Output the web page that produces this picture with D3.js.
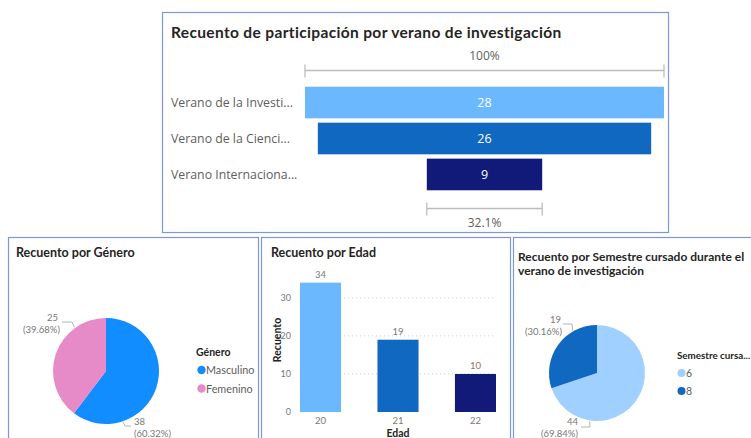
<!DOCTYPE html>
<html><head><meta charset="utf-8">
<script src="https://cdn.jsdelivr.net/npm/d3@7"></script>
<style>
html,body{margin:0;padding:0;background:#fff;}
svg{display:block;font-family:"Open Sans","Noto Sans",sans-serif;}
.t{font-family:Lato,"Open Sans",sans-serif;}
</style></head>
<body>
<svg id="c" width="751" height="438"></svg>
<script>
// ---- data ----
const funnelCats = ["Verano de la Investi...", "Verano de la Cienci...", "Verano Internaciona..."];
const funnelVals = [28, 26, 9];
const funnelColors = ["#6cb8ff", "#1068c1", "#111a78"];

const generoCats = ["Masculino", "Femenino"];
const generoVals = [38, 25];
const generoColors = ["#118dff", "#e78ac8"];

const edadCats = ["20", "21", "22"];
const edadVals = [34, 19, 10];
const edadColors = ["#6cb8ff", "#1068c1", "#111a78"];
const edadTicks = [0, 10, 20, 30];

const semCats = ["6", "8"];
const semVals = [44, 19];
const semColors = ["#a0d0ff", "#1068c1"];

const svg = d3.select("#c");
const border = "#7d97da";

function panel(x, y, w, h) {
  svg.append("rect").attr("x", x + 0.5).attr("y", y + 0.5).attr("width", w).attr("height", h)
    .attr("fill", "#fff").attr("stroke", border).attr("stroke-width", 1.2);
}

// ---------- Funnel panel ----------
panel(162, 12, 506, 220);
svg.append("text").attr("class", "t").attr("x", 171).attr("y", 38).attr("font-size", 15.5).attr("font-weight", 700)
  .attr("fill", "#252423").attr("letter-spacing", 0.35).text("Recuento de participación por verano de investigación");

const fx = d3.scaleLinear().domain([0, d3.max(funnelVals)]).range([0, 359]);
const fy = d3.scaleBand().domain(funnelCats).range([86, 191]).paddingInner(0.12).paddingOuter(0.02);
const fcx = 484.5;
const fg = svg.append("g");
fg.selectAll("rect").data(funnelVals).join("rect")
  .attr("x", d => fcx - fx(d) / 2).attr("y", (d, i) => fy(funnelCats[i]))
  .attr("width", d => fx(d)).attr("height", fy.bandwidth())
  .attr("fill", (d, i) => funnelColors[i]);
fg.selectAll("text.v").data(funnelVals).join("text").attr("class", "v")
  .attr("x", fcx).attr("y", (d, i) => fy(funnelCats[i]) + fy.bandwidth() / 2 + 4.5)
  .attr("text-anchor", "middle").attr("font-size", 12.5).attr("fill", "#fff").text(d => d);
fg.selectAll("text.c").data(funnelCats).join("text").attr("class", "c")
  .attr("x", 171).attr("y", d => fy(d) + fy.bandwidth() / 2 + 4.5)
  .attr("font-size", 12.3).attr("fill", "#605e5c").text(d => d);

function bracket(val, yLine, yText, label) {
  const x0 = fcx - fx(val) / 2, x1 = fcx + fx(val) / 2;
  const g = svg.append("g").attr("stroke", "#bdbdbd").attr("stroke-width", 1.3);
  g.append("line").attr("x1", x0).attr("x2", x1).attr("y1", yLine).attr("y2", yLine);
  g.append("line").attr("x1", x0).attr("x2", x0).attr("y1", yLine - 6).attr("y2", yLine + 7);
  g.append("line").attr("x1", x1).attr("x2", x1).attr("y1", yLine - 6).attr("y2", yLine + 7);
  svg.append("text").attr("x", fcx).attr("y", yText).attr("text-anchor", "middle")
    .attr("font-size", 12).attr("fill", "#605e5c").text(label);
}
bracket(funnelVals[0], 70.5, 60, "100%");
bracket(funnelVals[2], 208.5, 227, d3.format(".1%")(funnelVals[2] / funnelVals[0]));

// ---------- Pie helper ----------
// spec: ang = angle (rad, clockwise from 12 o'clock) where leader touches pie,
// pts = leader bend points relative to centre, lx/ly text anchor, anchor
function pieChart(cx, cy, r, vals, colors, specs) {
  const pie = d3.pie().sort(null).value(d => d);
  const arcs = pie(vals);
  const arc = d3.arc().innerRadius(0).outerRadius(r);
  const g = svg.append("g").attr("transform", `translate(${cx},${cy})`);
  g.selectAll("path").data(arcs).join("path").attr("d", arc)
    .attr("fill", (d, i) => colors[i]);
  const total = d3.sum(vals);
  arcs.forEach((a, i) => {
    const s = specs[i];
    const ax = Math.sin(s.ang) * (r + 1), ay = -Math.cos(s.ang) * (r + 1);
    const pts = [[ax, ay]].concat(s.pts).map(p => p.join(",")).join(" ");
    g.append("polyline").attr("points", pts)
      .attr("fill", "none").attr("stroke", "#b3b3b3").attr("stroke-width", 1);
    const t = g.append("text").attr("class", "t").attr("font-size", 9.5).attr("fill", "#7a7876")
      .attr("text-anchor", s.anchor);
    t.append("tspan").attr("x", s.lx).attr("y", s.ly).text(vals[i]);
    t.append("tspan").attr("x", s.lx2 ?? s.lx).attr("y", s.ly + 11.5)
      .text("(" + d3.format(".2%")(vals[i] / total) + ")");
  });
}

// ---------- Género panel ----------
panel(8, 237, 250, 205);
svg.append("text").attr("class", "t").attr("x", 16).attr("y", 257).attr("font-size", 12.5).attr("font-weight", 700)
  .attr("fill", "#252423").text("Recuento por Género");
pieChart(106, 371, 53, generoVals, generoColors, [
  { ang: 2.82, pts: [[19, 55], [25, 55]], lx: 28, ly: 54, anchor: "start" },
  { ang: 5.66, pts: [[-34, -49], [-44, -49]], lx: -48, lx2: -46, ly: -50, anchor: "end" }
]);
svg.append("text").attr("class", "t").attr("x", 196).attr("y", 356).attr("font-size", 10.5).attr("font-weight", 700)
  .attr("fill", "#252423").text("Género");
generoCats.forEach((c, i) => {
  svg.append("circle").attr("cx", 201.5).attr("cy", 370 + i * 18.5).attr("r", 4.2).attr("fill", generoColors[i]);
  svg.append("text").attr("class", "t").attr("x", 206).attr("y", 374 + i * 18.5).attr("font-size", 10.8)
    .attr("fill", "#605e5c").text(c);
});

// ---------- Edad panel ----------
panel(261, 237, 249, 205);
svg.append("text").attr("class", "t").attr("x", 271).attr("y", 257).attr("font-size", 12.5).attr("font-weight", 700)
  .attr("fill", "#252423").text("Recuento por Edad");
const ex = d3.scaleBand().domain(edadCats).range([300, 496]).paddingInner(0.47).paddingOuter(0.0);
const ey = d3.scaleLinear().domain([0, 36.8]).range([412, 272]);
const eg = svg.append("g");
const yAxis = d3.axisLeft(ey).tickValues(edadTicks).tickSize(0).tickPadding(9);
const ya = eg.append("g").attr("transform", "translate(300,0)").call(yAxis);
ya.select(".domain").remove();
ya.selectAll("text").attr("font-size", 9).attr("fill", "#7a7876").attr("font-family", "Lato, sans-serif");
eg.selectAll("line.grid").data(edadTicks.slice(1)).join("line").attr("class", "grid")
  .attr("x1", 300).attr("x2", 496).attr("y1", d => ey(d)).attr("y2", d => ey(d))
  .attr("stroke", "#d0d0d0").attr("stroke-dasharray", "1,3");
eg.selectAll("rect").data(edadVals).join("rect")
  .attr("x", (d, i) => ex(edadCats[i])).attr("y", d => ey(d))
  .attr("width", ex.bandwidth()).attr("height", d => ey(0) - ey(d))
  .attr("fill", (d, i) => edadColors[i]);
eg.selectAll("text.v").data(edadVals).join("text").attr("class", "v t")
  .attr("x", (d, i) => ex(edadCats[i]) + ex.bandwidth() / 2).attr("y", d => ey(d) - 5)
  .attr("text-anchor", "middle").attr("font-size", 9.5).attr("fill", "#7a7876").text(d => d);
const xAxis = d3.axisBottom(ex).tickSize(0).tickPadding(5);
const xa = eg.append("g").attr("transform", "translate(0,412)").call(xAxis);
xa.select(".domain").remove();
xa.selectAll("text").attr("font-size", 9.5).attr("fill", "#7a7876").attr("font-family", "Lato, sans-serif");
svg.append("text").attr("class", "t").attr("x", 398).attr("y", 437).attr("text-anchor", "middle").attr("font-size", 10.5)
  .attr("font-weight", 700).attr("fill", "#252423").text("Edad");
svg.append("text").attr("class", "t").attr("transform", "translate(281,340) rotate(-90)").attr("text-anchor", "middle")
  .attr("font-size", 10.5).attr("font-weight", 700).attr("fill", "#252423").text("Recuento");

// ---------- Semestre panel ----------
panel(513, 237, 245, 205);
const st = svg.append("text").attr("class", "t").attr("font-size", 12).attr("font-weight", 700).attr("fill", "#252423");
st.append("tspan").attr("x", 518).attr("y", 261).text("Recuento por Semestre cursado durante el");
st.append("tspan").attr("x", 518).attr("y", 275).text("verano de investigación");
pieChart(597, 373, 48, semVals, semColors, [
  { ang: 3.29, pts: [[-7, 54], [-16, 54]], lx: -19, ly: 52, anchor: "end" },
  { ang: 5.76, pts: [[-25, -49], [-34, -49]], lx: -36, lx2: -35, ly: -50, anchor: "end" }
]);
svg.append("text").attr("class", "t").attr("x", 677).attr("y", 359).attr("font-size", 9.8).attr("font-weight", 700)
  .attr("fill", "#252423").text("Semestre cursa...");
semCats.forEach((c, i) => {
  svg.append("circle").attr("cx", 681.5).attr("cy", 373 + i * 18).attr("r", 4).attr("fill", semColors[i]);
  svg.append("text").attr("class", "t").attr("x", 686).attr("y", 377 + i * 18).attr("font-size", 10.5)
    .attr("fill", "#605e5c").text(c);
});
</script>
</body></html>
